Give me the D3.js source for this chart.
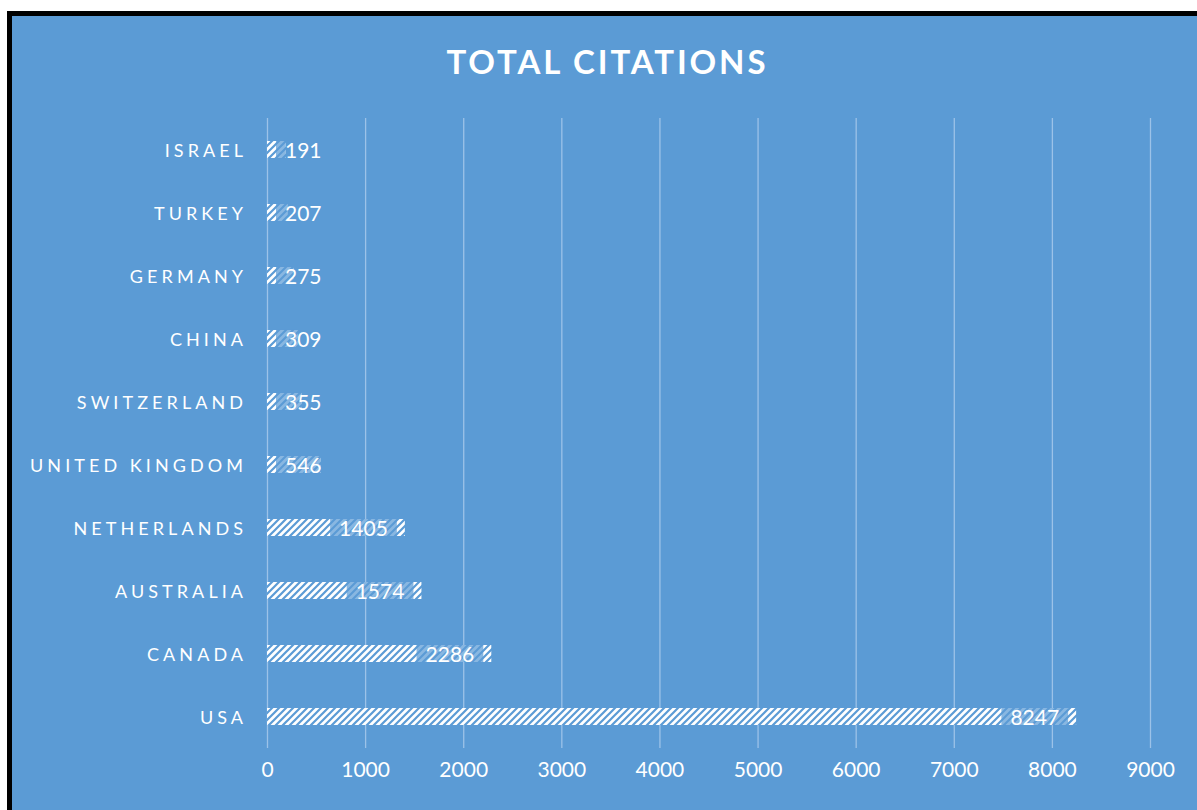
<!DOCTYPE html>
<html>
<head>
<meta charset="utf-8">
<script src="https://cdn.jsdelivr.net/npm/d3@7"></script>
<style>
  html, body { margin: 0; padding: 0; background: #ffffff; }
  svg { display: block; }
  text { font-family: Lato, "Open Sans", sans-serif; fill: #ffffff; }
</style>
</head>
<body>
<svg id="chart" width="1197" height="810"></svg>
<script>
// ---- data ----
const categories = ["ISRAEL", "TURKEY", "GERMANY", "CHINA", "SWITZERLAND", "UNITED KINGDOM", "NETHERLANDS", "AUSTRALIA", "CANADA", "USA"];
const values = [191, 207, 275, 309, 355, 546, 1405, 1574, 2286, 8247];
const tickValues = [0, 1000, 2000, 3000, 4000, 5000, 6000, 7000, 8000, 9000];
const chartTitle = "TOTAL CITATIONS";

// ---- layout ----
const W = 1197, H = 810;
const bg = "#5B9BD5";
const plot = { left: 267, right: 1150, top: 118, bottom: 748 };

const svg = d3.select("#chart");

// frame
svg.append("rect").attr("x", 7).attr("y", 11).attr("width", W - 7).attr("height", H - 11).attr("fill", "#000");
svg.append("rect").attr("x", 12).attr("y", 16).attr("width", W - 12).attr("height", H - 16).attr("fill", bg);

// hatch pattern
const defs = svg.append("defs");
const P = 7;
const pat = defs.append("pattern").attr("id", "hatch")
  .attr("patternUnits", "userSpaceOnUse").attr("width", P).attr("height", P);
pat.append("rect").attr("width", P).attr("height", P).attr("fill", "#ffffff");
pat.append("path").attr("d", `M-2,2 L2,-2 M0,${P} L${P},0 M${P - 2},${P + 2} L${P + 2},${P - 2}`)
  .attr("stroke", bg).attr("stroke-width", 2.2);

const x = d3.scaleLinear().domain([0, 9000]).range([plot.left, plot.right]);
const y = d3.scaleBand().domain(categories).range([plot.top, plot.bottom])
  .paddingInner(0.73).paddingOuter(0.365);

// gridlines + tick labels
const xAxis = d3.axisBottom(x).tickValues(tickValues).tickFormat(d3.format("d"))
  .tickSize(-(plot.bottom - plot.top)).tickPadding(14);
const gx = svg.append("g").attr("transform", `translate(0,${plot.bottom})`).call(xAxis);
gx.select(".domain").remove();
gx.selectAll(".tick line").attr("stroke", "#9CC2E8").attr("stroke-width", 1.3);
gx.selectAll(".tick text").attr("fill", "#fff").style("font-size", "21px")
  .style("font-family", "Lato, 'Open Sans', sans-serif");

// category labels
const yAxis = d3.axisLeft(y).tickSize(0).tickPadding(24);
const gy = svg.append("g").attr("transform", `translate(${plot.left},0)`).call(yAxis);
gy.select(".domain").remove();
const catText = gy.selectAll(".tick text").attr("fill", "#fff").style("font-size", "18px")
  .attr("dy", "0.4em")
  .style("font-family", "Lato, 'Open Sans', sans-serif");
// letter spacing so that the longest label spans like the reference
const probe = svg.append("text").style("font-size", "18px").text("UNITED KINGDOM");
const natural = probe.node().getComputedTextLength();
probe.remove();
const ls = Math.max(0, (213 - natural) / 13);
catText.style("letter-spacing", ls + "px").attr("dx", ls);

// bars
svg.append("g").selectAll("rect").data(values).join("rect")
  .attr("x", x(0))
  .attr("y", (d, i) => y(categories[i]))
  .attr("width", d => x(d) - x(0))
  .attr("height", y.bandwidth())
  .attr("fill", "url(#hatch)");

// data labels
const lg = svg.append("g");
values.forEach((v, i) => {
  const g = lg.append("g");
  const cy = y(categories[i]) + y.bandwidth() / 2;
  const t = g.append("text").text(v).style("font-size", "21px")
    .attr("text-anchor", "middle").attr("dominant-baseline", "central");
  const tw = t.node().getComputedTextLength();
  const boxW = tw + 18;
  const boxLeft = Math.max(x(v) - 8 - boxW, x(0) + 9);
  g.insert("rect", "text")
    .attr("x", boxLeft).attr("y", y(categories[i]))
    .attr("width", Math.min(boxW, Math.max(0, x(v) - boxLeft)))
    .attr("height", y.bandwidth())
    .attr("fill", bg).attr("fill-opacity", 0.72);
  t.attr("x", boxLeft + boxW / 2).attr("y", cy);
});

// title
svg.append("text").attr("x", 606).attr("y", 74).attr("text-anchor", "middle")
  .style("font-size", "33px").style("font-weight", "bold")
  .attr("textLength", 319).attr("lengthAdjust", "spacing")
  .text(chartTitle);
</script>
</body>
</html>
